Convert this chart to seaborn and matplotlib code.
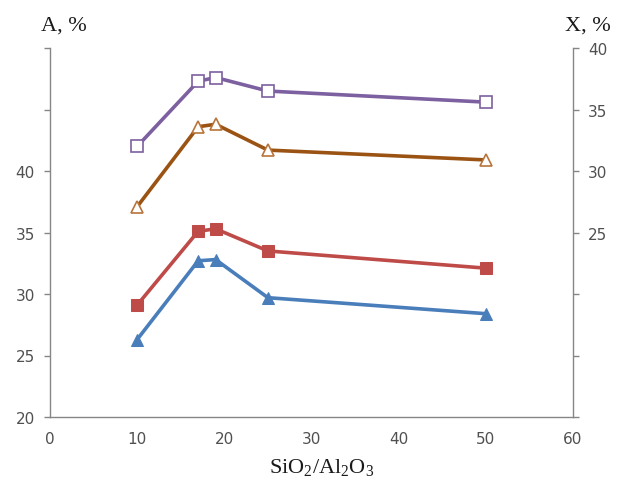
import matplotlib
matplotlib.use("Agg")
import matplotlib.pyplot as plt
import seaborn as sns
import pandas as pd

# data
ratio = [10, 17, 19, 25, 50]
blue_A = [26.3, 32.7, 32.8, 29.7, 28.4]      # left axis A, %
red_A = [29.1, 35.1, 35.3, 33.5, 32.1]       # left axis A, %
orange_X = [27.1, 33.6, 33.8, 31.7, 30.9]    # right axis X, %
purple_X = [32.0, 37.3, 37.6, 36.5, 35.6]    # right axis X, %

left_ticks = [20, 25, 30, 35, 40, 45, 50]
left_labels = ["20", "25", "30", "35", "40", "", ""]
right_ticks = [10, 15, 20, 25, 30, 35, 40]
right_labels = ["", "", "", "25", "30", "35", "40"]
x_ticks = [0, 10, 20, 30, 40, 50, 60]

sns.set_theme(style="white")
plt.rcParams["font.family"] = ["DejaVu Sans"]
plt.rcParams["mathtext.fontset"] = "custom"
plt.rcParams["mathtext.rm"] = "Liberation Serif"

fig = plt.figure(figsize=(6.2, 4.89), dpi=100)
ax = fig.add_axes([50/620, 1-418/489, 523/620, 369/489])
ax2 = ax.twinx()

df = pd.DataFrame({"r": ratio, "blue": blue_A, "red": red_A,
                   "orange": orange_X, "purple": purple_X})

sns.lineplot(data=df, x="r", y="blue", ax=ax, color="#4A7EBB", lw=2.6,
             marker="^", markersize=8, markeredgecolor="#4A7EBB")
sns.lineplot(data=df, x="r", y="red", ax=ax, color="#BE4B48", lw=2.6,
             marker="s", markersize=8, markeredgecolor="#BE4B48")
sns.lineplot(data=df, x="r", y="orange", ax=ax2, color="#9B5313", lw=2.6,
             marker="^", markersize=8, markerfacecolor="white",
             markeredgecolor="#B8743A", markeredgewidth=1.2)
sns.lineplot(data=df, x="r", y="purple", ax=ax2, color="#7D60A0", lw=2.6,
             marker="s", markersize=9, markerfacecolor="white",
             markeredgecolor="#7D60A0", markeredgewidth=1.2)

ax.set_xlim(0, 60)
ax.set_ylim(20, 50)
ax2.set_ylim(10, 40)
ax.set_xticks(x_ticks)
ax.set_xticklabels([str(t) for t in x_ticks])
ax.set_yticks(left_ticks)
ax.set_yticklabels(left_labels)
ax2.set_yticks(right_ticks)
ax2.set_yticklabels(right_labels)
ax.set_xlabel("")
ax.set_ylabel("")
ax2.set_ylabel("")

gray = "#868686"
tcol = "#505050"
for a in (ax, ax2):
    for s in a.spines.values():
        s.set_color(gray)
        s.set_linewidth(1.0)
    a.spines["top"].set_visible(False)
    a.tick_params(axis="both", colors=gray, labelcolor=tcol, labelsize=11,
                  length=4, width=1, direction="out", pad=7)
ax.spines["right"].set_visible(False)
ax2.spines["left"].set_visible(False)
ax2.spines["bottom"].set_visible(False)
ax.tick_params(axis="x", pad=6)
ax.grid(False)
ax2.grid(False)

fig.text(64/620, 1-26/489, "A, %", ha="center", va="center",
         family="Liberation Serif", fontsize=16, color="#1a1a1a")
fig.text(588/620, 1-26/489, "X, %", ha="center", va="center",
         family="Liberation Serif", fontsize=16, color="#1a1a1a")
fig.text(322/620, 1-468/489, r"$\mathrm{SiO_2/Al_2O_3}$", ha="center",
         va="center", fontsize=16, color="#1a1a1a")

fig.savefig("out.png", dpi=100, facecolor="white")
